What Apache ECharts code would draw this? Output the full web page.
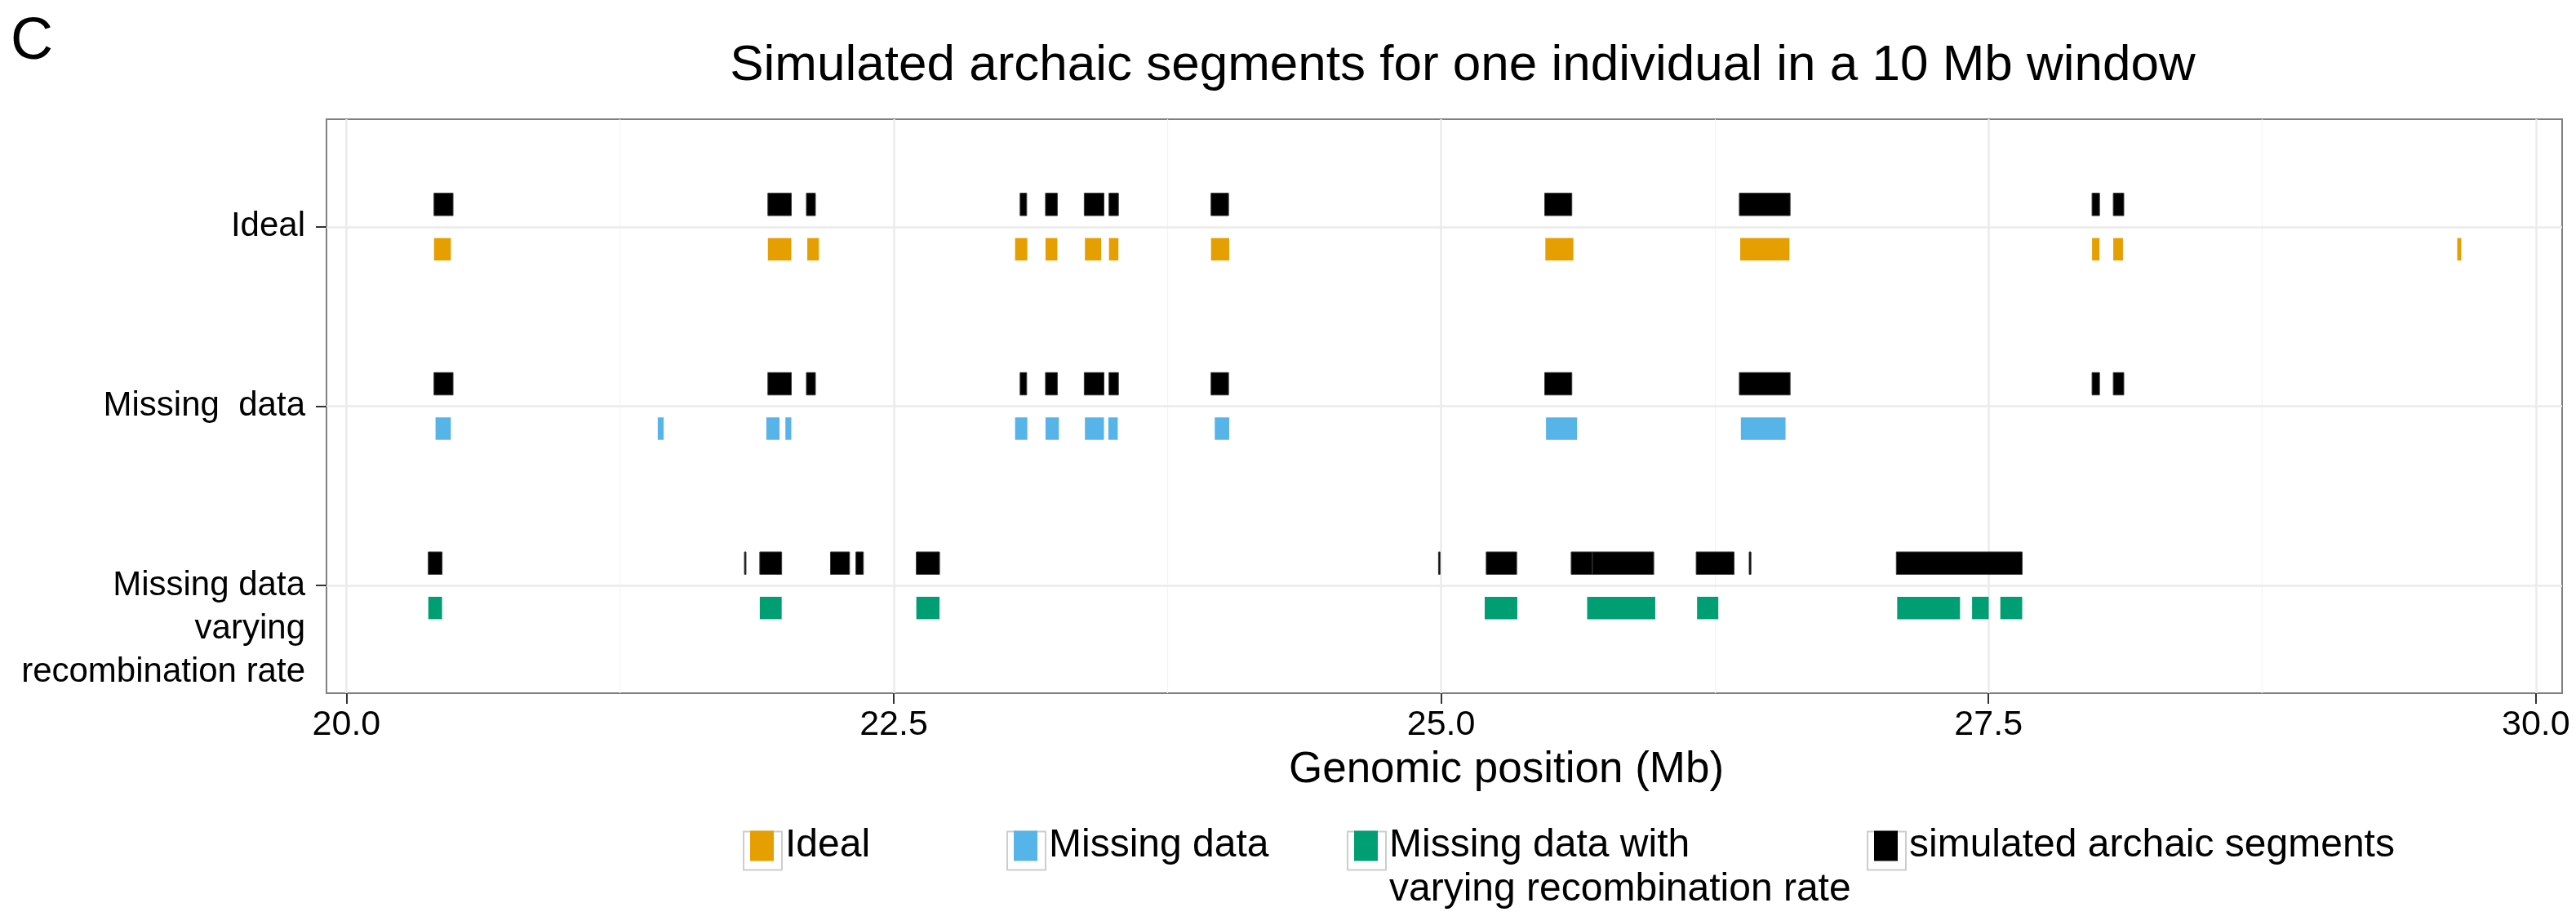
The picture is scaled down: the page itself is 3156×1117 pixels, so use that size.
<!DOCTYPE html>
<html>
<head>
<meta charset="utf-8">
<script src="https://cdn.jsdelivr.net/npm/echarts@6/dist/echarts.min.js"></script>
<style>
html,body{margin:0;padding:0;background:#fff;}
#chart{width:3156px;height:1117px;}
</style>
</head>
<body>
<div id="chart"></div>
<script>
// ---- data (Mb) ----
const rowLabels = ['Ideal', 'Missing  data', 'Missing data\nvarying\nrecombination rate'];
const xTickValues = [20, 22.5, 25, 27.5, 30];
const xMinorGrid = [21.25, 23.75, 26.25, 28.75];
const yTickValues = [1, 2, 3];

const seriesNames = ['Ideal', 'Missing data', 'Missing data with varying recombination rate', 'simulated archaic segments'];

// simulated archaic segments (truth) per scenario
const archaicIdeal = [
  [20.400, 20.487], [21.925, 22.032], [22.101, 22.142], [23.077, 23.107], [23.193, 23.247],
  [23.370, 23.460], [23.483, 23.526], [23.949, 24.029], [25.473, 25.597], [26.362, 26.594],
  [27.973, 28.007], [28.070, 28.118]
];
const archaicMissing = [
  [20.400, 20.487], [21.925, 22.032], [22.101, 22.142], [23.077, 23.107], [23.193, 23.247],
  [23.370, 23.460], [23.483, 23.526], [23.949, 24.029], [25.473, 25.597], [26.362, 26.594],
  [27.973, 28.007], [28.070, 28.118]
];
const archaicRecomb = [
  [20.374, 20.437], [21.818, 21.825], [21.888, 21.988], [22.211, 22.298], [22.327, 22.361],
  [22.603, 22.709], [24.988, 24.995], [25.206, 25.345], [25.594, 25.691], [25.691, 25.971],
  [26.165, 26.338], [26.407, 26.415], [27.079, 27.654]
];

// inferred segments
const inferredIdeal = [
  [20.400, 20.477], [21.925, 22.032], [22.105, 22.158], [23.054, 23.110], [23.193, 23.247],
  [23.373, 23.447], [23.483, 23.526], [23.949, 24.032], [25.476, 25.604], [26.366, 26.591],
  [27.973, 28.007], [28.070, 28.114], [29.641, 29.659]
];
const inferredMissing = [
  [20.407, 20.477], [21.422, 21.449], [21.918, 21.978], [22.005, 22.032], [23.054, 23.110],
  [23.193, 23.254], [23.373, 23.460], [23.480, 23.523], [23.966, 24.032], [25.479, 25.621],
  [26.369, 26.573]
];
const inferredRecomb = [
  [20.374, 20.437], [21.888, 21.988], [22.603, 22.709], [25.199, 25.348], [25.667, 25.978],
  [26.169, 26.266], [27.083, 27.370], [27.425, 27.501], [27.554, 27.654]
];

// ---- styling ----
const COLORS = ['#E69F00', '#56B4E9', '#009E73', '#000000'];
const FONT = 'Liberation Sans, Arial, Helvetica, sans-serif';
const BAND = 0.125;

function withRow(arr, row) { return arr.map(d => [d[0], d[1], row]); }

function makeRender(offset, strokeColor) {
  return function (params, api) {
    const x0 = api.value(0), x1 = api.value(1), row = api.value(2);
    const p0 = api.coord([x0, row + offset - BAND / 2]);
    const p1 = api.coord([x1, row + offset + BAND / 2]);
    const x = Math.min(p0[0], p1[0]);
    const w = Math.max(Math.abs(p1[0] - p0[0]), 1);
    const y = Math.min(p0[1], p1[1]);
    const h = Math.abs(p1[1] - p0[1]);
    return {
      type: 'rect',
      shape: { x: x, y: y, width: w, height: h },
      style: { fill: api.visual('color'), stroke: strokeColor, lineWidth: strokeColor ? 1 : 0 }
    };
  };
}

const gridLineData = []
  .concat(xTickValues.map(v => ({ xAxis: v, lineStyle: { color: '#EBEBEB', width: 2.5, type: 'solid' } })))
  .concat(xMinorGrid.map(v => ({ xAxis: v, lineStyle: { color: '#F4F4F4', width: 1.2, type: 'solid' } })))
  .concat(yTickValues.map(v => ({ yAxis: v, lineStyle: { color: '#EBEBEB', width: 2.5, type: 'solid' } })));

const legendCommon = {
  icon: 'rect', itemWidth: 29, itemHeight: 37, padding: 0, selectedMode: false, orient: 'horizontal',
  textStyle: { fontSize: 48, lineHeight: 54, color: '#000', fontFamily: FONT, padding: [0, 0, 0, 9] },
  z: 5
};
const LEG_TOP = 1009;

const chart = echarts.init(document.getElementById('chart'), null, { renderer: 'canvas' });

const option = {
  animation: false,
  backgroundColor: '#ffffff',
  textStyle: { fontFamily: FONT },
  title: [
    {
      text: 'Simulated archaic segments for one individual in a 10 Mb window',
      left: 1792, top: 50, padding: 0, textAlign: 'center',
      textStyle: { fontSize: 62, fontWeight: 'normal', color: '#000', fontFamily: FONT }
    },
    {
      text: 'C', left: 13, top: 16, padding: 0,
      textStyle: { fontSize: 72, fontWeight: 'normal', color: '#000', fontFamily: FONT }
    }
  ],
  legend: [
    Object.assign({}, legendCommon, { data: [seriesNames[0]], left: 919, top: LEG_TOP }),
    Object.assign({}, legendCommon, { data: [seriesNames[1]], left: 1242, top: LEG_TOP }),
    Object.assign({}, legendCommon, {
      data: [seriesNames[2]], left: 1659, top: LEG_TOP - 54,
      formatter: function () { return '\nMissing data with\nvarying recombination rate'; }
    }),
    Object.assign({}, legendCommon, { data: [seriesNames[3]], left: 2296, top: LEG_TOP })
  ],
  graphic: [910, 1233, 1650, 2287].map(function (x) {
    return { type: 'rect', left: x, top: LEG_TOP + 8.5, z: 0, silent: true,
      shape: { width: 47, height: 47 }, style: { fill: '#fff', stroke: '#CDCDCD', lineWidth: 2 } };
  }),
  grid: {
    left: 400, right: 17, top: 146, bottom: 268,
    show: true, borderColor: '#7F7F7F', borderWidth: 2, backgroundColor: 'transparent'
  },
  xAxis: {
    type: 'value', min: 19.909, max: 30.12,
    name: 'Genomic position (Mb)', nameLocation: 'middle', nameGap: 68,
    nameTextStyle: { fontSize: 53, color: '#000', fontFamily: FONT, padding: [0, 0, 0, 152] },
    axisLine: { show: false },
    splitLine: { show: false },
    axisTick: { show: true, customValues: xTickValues, length: 13, lineStyle: { color: '#333', width: 2 } },
    axisLabel: {
      customValues: xTickValues, fontSize: 43, color: '#000', margin: 18, fontFamily: FONT,
      formatter: function (v) { return Number(v).toFixed(1); }
    }
  },
  yAxis: {
    type: 'value', min: 0.4, max: 3.6, inverse: true,
    axisLine: { show: false },
    splitLine: { show: false },
    axisTick: { show: true, customValues: yTickValues, length: 13, lineStyle: { color: '#333', width: 2 } },
    axisLabel: {
      customValues: yTickValues, fontSize: 42, lineHeight: 53, color: '#000', margin: 26, fontFamily: FONT,
      align: 'right',
      formatter: function (v) {
        const lbl = rowLabels[Math.round(v) - 1] || '';
        const n = lbl.split('\n').length;
        // keep first line centred on the tick
        return n > 1 ? '\n'.repeat(n - 1) + lbl : lbl;
      }
    }
  },
  series: [
    {
      name: seriesNames[0], type: 'custom', z: 3, color: COLORS[0], itemStyle: { color: COLORS[0] },
      renderItem: makeRender(BAND, null), encode: { x: [0, 1], y: 2 },
      data: withRow(inferredIdeal, 1)
    },
    {
      name: seriesNames[1], type: 'custom', z: 3, color: COLORS[1], itemStyle: { color: COLORS[1] },
      renderItem: makeRender(BAND, null), encode: { x: [0, 1], y: 2 },
      data: withRow(inferredMissing, 2)
    },
    {
      name: seriesNames[2], type: 'custom', z: 3, color: COLORS[2], itemStyle: { color: COLORS[2] },
      renderItem: makeRender(BAND, null), encode: { x: [0, 1], y: 2 },
      data: withRow(inferredRecomb, 3)
    },
    {
      name: seriesNames[3], type: 'custom', z: 3, color: COLORS[3], itemStyle: { color: COLORS[3] },
      renderItem: makeRender(-BAND, '#3a3a3a'), encode: { x: [0, 1], y: 2 },
      data: withRow(archaicIdeal, 1).concat(withRow(archaicMissing, 2)).concat(withRow(archaicRecomb, 3)),
      markLine: {
        silent: true, symbol: ['none', 'none'], z: 1, animation: false,
        label: { show: false }, emphasis: { disabled: true },
        data: gridLineData
      }
    }
  ]
};

chart.setOption(option);
</script>
</body>
</html>
